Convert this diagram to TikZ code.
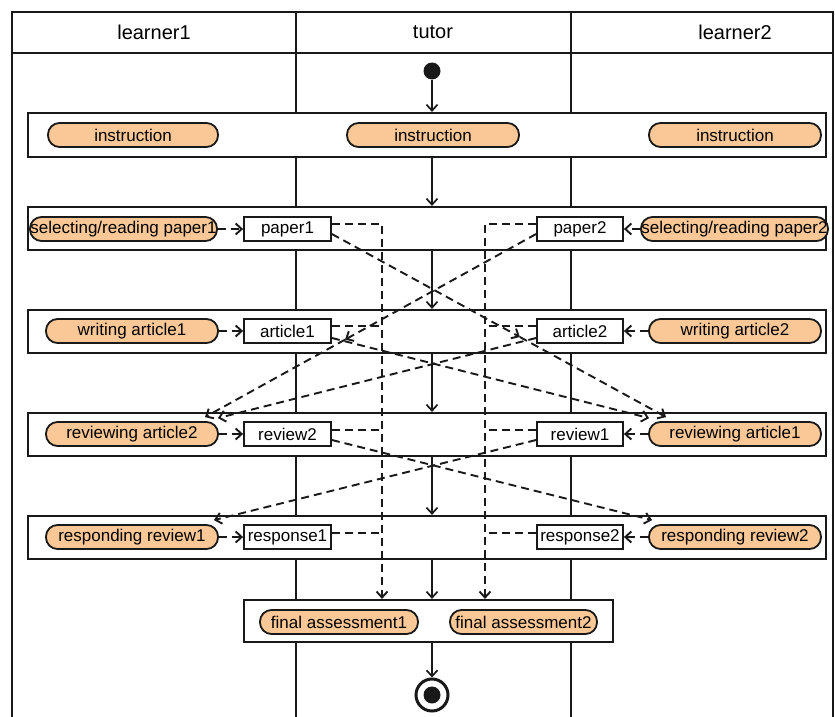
\documentclass[tikz,border=0pt]{standalone}
\usepackage{fontspec}
\setmainfont{Liberation Sans}
\usetikzlibrary{arrows.meta,calc}
\definecolor{pillfill}{RGB}{250,200,150}
\definecolor{ink}{RGB}{25,25,25}
\begin{document}
\begin{tikzpicture}[x=1pt,y=-1pt,
  every node/.style={font=\fontsize{17}{20}\selectfont},
  head/.style={font=\fontsize{20}{23}\selectfont},
  pill/.style={draw=ink,line width=1.8pt,fill=pillfill,rounded corners=11.5pt,minimum height=24pt,inner sep=0pt},
  objbox/.style={draw=ink,line width=1.8pt,fill=white,minimum height=24pt,inner sep=0pt},
  lanebox/.style={draw=ink,line width=2.2pt,fill=white,inner sep=0pt},
  tip/.style={-{Straight Barb[length=6pt,width=11pt]}},
  flow/.style={draw=ink,line width=1.7pt,tip},
  dline/.style={draw=ink,line width=1.9pt,dash pattern=on 8pt off 5pt},
  dflow/.style={dline,tip},
  grid/.style={draw=ink,line width=1.4pt}
]
\useasboundingbox (0,0) rectangle (835,717);
% swimlanes
\draw[grid] (12,722) -- (12,12) -- (833,12) -- (833,722);
\draw[grid] (12,53) -- (833,53);
\draw[grid] (296,12) -- (296,722);
\draw[grid] (571,12) -- (571,722);
\node[head] (h1) at (154,32) {learner1};
\node[head] (h2) at (433,32) {tutor};
\node[head] (h3) at (735,32) {learner2};

% start
\node[circle,fill=ink,minimum size=17pt,inner sep=0pt] (start) at (432,71) {};

% row boxes
\node[lanebox,minimum width=798pt,minimum height=44pt] (r1) at (427,135) {};
\node[lanebox,minimum width=798pt,minimum height=43pt] (r2) at (427,228.5) {};
\node[lanebox,minimum width=798pt,minimum height=43pt] (r3) at (427,331.5) {};
\node[lanebox,minimum width=798pt,minimum height=43pt] (r4) at (427,434.5) {};
\node[lanebox,minimum width=798pt,minimum height=43pt] (r5) at (427,537.5) {};
\node[lanebox,minimum width=369pt,minimum height=42pt] (fin) at (428.5,621) {};

% row 1
\node[pill,minimum width=170pt] (i1) at (133,135) {instruction};
\node[pill,minimum width=172pt] (i2) at (433,135) {instruction};
\node[pill,minimum width=172pt] (i3) at (735,135) {instruction};

% row 2
\node[pill,minimum width=187pt] (sl1) at (123.5,229) {selecting/reading paper1};
\node[objbox,minimum width=87pt] (p1) at (287.5,229) {paper1};
\node[objbox,minimum width=86pt] (p2) at (580,229) {paper2};
\node[pill,minimum width=187pt] (sl2) at (734.5,229) {selecting/reading paper2};

% row 3
\node[pill,minimum width=172pt] (wa1) at (132,331) {writing article1};
\node[objbox,minimum width=87pt] (a1) at (287.5,331) {article1};
\node[objbox,minimum width=86pt] (a2) at (580,331) {article2};
\node[pill,minimum width=172pt] (wa2) at (735,331) {writing article2};

% row 4
\node[pill,minimum width=172pt] (ra2) at (132,434) {reviewing article2};
\node[objbox,minimum width=87pt] (rv2) at (287.5,434) {review2};
\node[objbox,minimum width=86pt] (rv1) at (580,434) {review1};
\node[pill,minimum width=172pt] (ra1) at (735,434) {reviewing article1};

% row 5
\node[pill,minimum width=172pt] (rr1) at (132,537) {responding review1};
\node[objbox,minimum width=87pt] (rs1) at (287.5,537) {response1};
\node[objbox,minimum width=86pt] (rs2) at (580,537) {response2};
\node[pill,minimum width=172pt] (rr2) at (735,537) {responding review2};

% final
\node[pill,minimum width=158pt] (fa1) at (339,622) {final assessment1};
\node[pill,minimum width=147pt] (fa2) at (523.5,622) {final assessment2};

% end
\node[circle,draw=ink,line width=3pt,minimum size=32pt,inner sep=0pt] (endc) at (432,695) {};
\node[circle,fill=ink,minimum size=17pt,inner sep=0pt] (endd) at (endc) {};

% control flow
\draw[flow] (start) -- (start |- r1.north);
\draw[flow] (r1.south -| start) -- (r2.north -| start);
\draw[flow] (r2.south -| start) -- (r3.north -| start);
\draw[flow] (r3.south -| start) -- (r4.north -| start);
\draw[flow] (r4.south -| start) -- (r5.north -| start);
\draw[flow] (r5.south -| start) -- (fin.north -| start);
\draw[flow] (fin.south -| start) -- (endc.north);

% pill -> object
\draw[dflow] (sl1.east) -- (p1.west);
\draw[dflow] (wa1.east) -- (a1.west);
\draw[dflow] (ra2.east) -- (rv2.west);
\draw[dflow] (rr1.east) -- (rs1.west);
\draw[dflow] (sl2.west) -- (p2.east);
\draw[dflow] (wa2.west) -- (a2.east);
\draw[dflow] (ra1.west) -- (rv1.east);
\draw[dflow] (rr2.west) -- (rs2.east);

% collectors to final assessment
\coordinate (cl) at (382,0);
\coordinate (cr) at (485,0);
\draw[dflow] ([yshift=5pt]p1.east) -| (fin.north -| cl);
\draw[dline] ([yshift=5pt]a1.east) -- ([yshift=5pt]a1.east -| cl);
\draw[dline] ([yshift=4pt]rv2.east) -- ([yshift=4pt]rv2.east -| cl);
\draw[dline] ([yshift=4pt]rs1.east) -- ([yshift=4pt]rs1.east -| cl);
\draw[dflow] ([yshift=5pt]p2.west) -| (fin.north -| cr);
\draw[dline] ([yshift=5pt]a2.west) -- ([yshift=5pt]a2.west -| cr);
\draw[dline] ([yshift=4pt]rv1.west) -- ([yshift=4pt]rv1.west -| cr);
\draw[dline] ([yshift=4pt]rs2.west) -- ([yshift=4pt]rs2.west -| cr);

% diagonal object flows
\coordinate (p1o) at ([yshift=-5pt]p1.east);
\coordinate (p2o) at ([yshift=-5pt]p2.west);
\coordinate (a1o) at ([yshift=-7pt]a1.east);
\coordinate (a2o) at ([yshift=-7pt]a2.west);
\coordinate (rv2o) at ([yshift=-6pt]rv2.east);
\coordinate (rv1o) at ([yshift=-6pt]rv1.west);
\coordinate (tA) at ($(ra1.north west)+(18,-4)$);
\coordinate (tB) at ($(ra1.north west)+(1,-3)$);
\coordinate (tC) at ($(ra2.north east)+(-14,-4)$);
\coordinate (tD) at ($(ra2.north east)+(-1,-3)$);
\coordinate (tE) at ($(rr2.north west)+(4,-4)$);
\coordinate (tF) at ($(rr1.north east)+(-5,-4)$);
\coordinate (mA) at ($(p1o)!0.5625!(tA)$);
\coordinate (mC) at ($(p2o)!0.577!(tC)$);
\draw[dflow] (p1o) -- (mA);
\draw[dflow] (mA) -- (tA);
\draw[dflow] (p2o) -- (mC);
\draw[dflow] (mC) -- (tC);
\draw[dflow] (a1o) -- (tB);
\draw[dflow] (a2o) -- (tD);
\draw[dflow] (rv2o) -- (tE);
\draw[dflow] (rv1o) -- (tF);
\end{tikzpicture}
\end{document}
